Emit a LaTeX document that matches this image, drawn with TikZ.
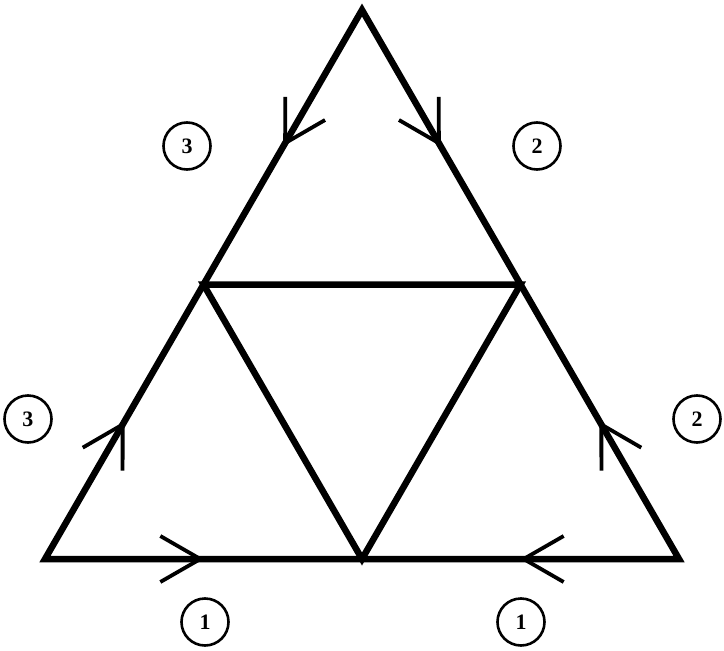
\documentclass[tikz,border=0pt]{standalone}
\usepackage{fontspec}
\setmainfont{Liberation Serif}
\usetikzlibrary{calc,decorations.markings}
\begin{document}
\begin{tikzpicture}[x=1pt,y=-1pt,
  edge/.style={line width=6.5pt, line join=miter, miter limit=10},
  arm/.style={line width=3.8pt, line join=miter},
  barbmark/.style={decorate, decoration={markings,
      mark=at position #1 with {\draw[arm] (-40pt,23pt) -- (0pt,0pt) -- (-40pt,-23pt);}}},
  lbl/.style={circle, draw, line width=2.6pt, minimum size=47pt, inner sep=0pt,
      font=\fontsize{22}{22}\selectfont\bfseries}]
\useasboundingbox (0,0) rectangle (724,651);
\coordinate (T) at (362,10);
\coordinate (BL) at (45,559);
\coordinate (BR) at (679,559);
\coordinate (ML) at ($(T)!0.5!(BL)$);
\coordinate (MR) at ($(T)!0.5!(BR)$);
\coordinate (MB) at ($(BL)!0.5!(BR)$);
% outer and inner triangles
\draw[edge] (T) -- (BL) -- (BR) -- cycle;
\draw[edge] (ML) -- (MR) -- (MB) -- cycle;
% identification arrows
\path[barbmark=0.49] (BL) -- (MB);
\path[barbmark=0.49] (BR) -- (MB);
\path[barbmark=0.49] (BL) -- (ML);
\path[barbmark=0.49] (BR) -- (MR);
\path[barbmark=0.485] (T) -- (ML);
\path[barbmark=0.485] (T) -- (MR);
% labels
\node[lbl] (l1a) at (205,622) {1};
\node[lbl] (l1b) at (521,622) {1};
\node[lbl] (l3a) at (28,419) {3};
\node[lbl] (l3b) at (187,146) {3};
\node[lbl] (l2a) at (537,146) {2};
\node[lbl] (l2b) at (697,419) {2};
\end{tikzpicture}
\end{document}
